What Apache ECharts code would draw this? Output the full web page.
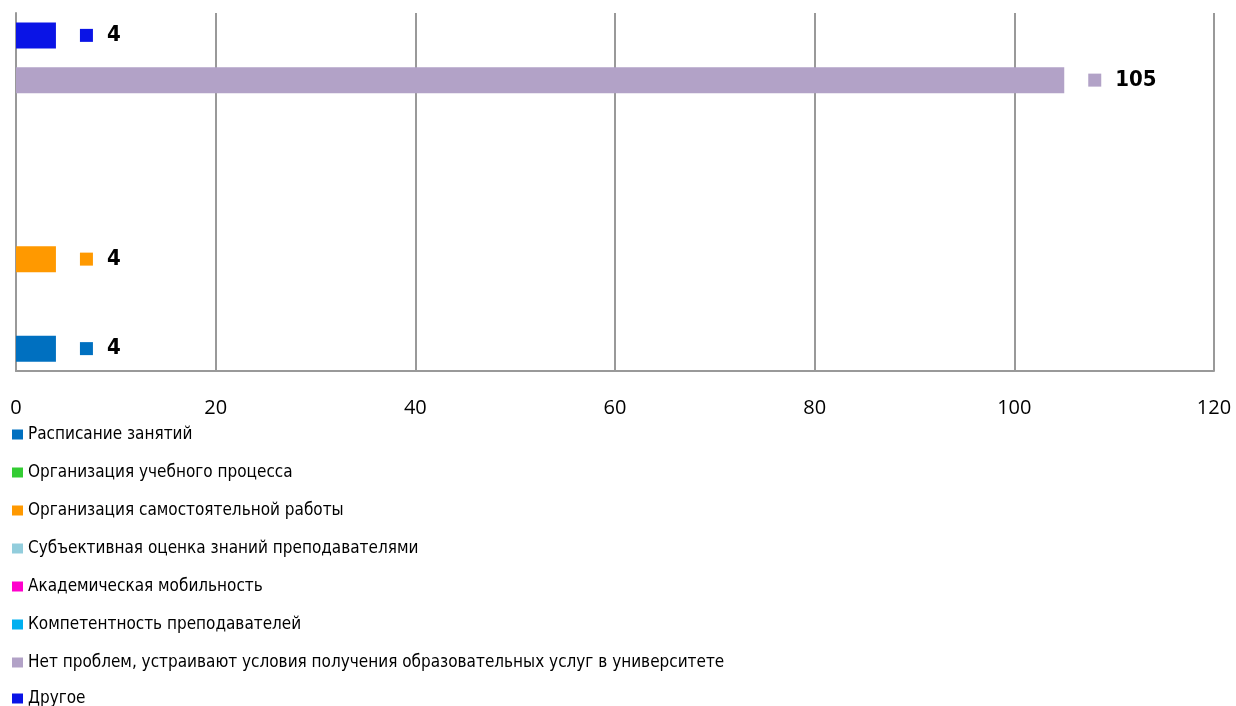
<!DOCTYPE html>
<html>
<head>
<meta charset="utf-8">
<script src="https://cdn.jsdelivr.net/npm/echarts@6/dist/echarts.min.js"></script>
<style>
  html, body { margin: 0; padding: 0; background: #fff; }
  #chart { width: 1236px; height: 706px; }
</style>
</head>
<body>
<div id="chart"></div>
<script>
// categories, bottom to top
const categories = [
    'Расписание занятий',
    'Организация учебного процесса',
    'Организация самостоятельной работы',
    'Субъективная оценка знаний преподавателями',
    'Академическая мобильность',
    'Компетентность преподавателей',
    'Нет проблем, устраивают условия получения образовательных услуг в университете',
    'Другое'
];
// one value per category (null = no bar)
const values = [4, null, 4, null, null, null, 105, 4];
const colors = ['#0070c0', '#33cc33', '#ff9900', '#92cddc', '#ff00cc', '#00b0f0', '#b2a2c7', '#0a14e6'];
const xTicks = [0, 20, 40, 60, 80, 100, 120];

const chart = echarts.init(document.getElementById('chart'));

const series = categories.map((name, i) => ({
    name: name,
    type: 'bar',
    stack: 'all',
    barWidth: 26,
    itemStyle: { color: colors[i] },
    data: categories.map((c, j) => (j === i ? values[i] : null)),
    label: {
        show: true,
        position: 'right',
        distance: 24,
        formatter: p => (p.value == null ? '' : '{box|}{num|' + p.value + '}'),
        rich: {
            box: { width: 13, height: 13, backgroundColor: colors[i] },
            num: {
                fontFamily: '"Liberation Sans Narrow", "DejaVu Sans Condensed", sans-serif',
                fontWeight: 'bold',
                fontSize: 22,
                color: '#000',
                padding: [0, 0, 0, 14]
            }
        }
    }
}));

// the legend runs past the bottom edge, so the last item gets its own legend
const legendBase = {
    orient: 'vertical',
    left: 12,
    padding: 0,
    itemWidth: 11,
    itemHeight: 10,
    itemGap: 21,
    icon: 'rect',
    textStyle: {
        fontFamily: '"Liberation Sans Narrow", "DejaVu Sans Condensed", sans-serif',
        fontSize: 17,
        color: '#000',
        padding: [0, 0, 0, 0]
    }
};

chart.setOption({
    animation: false,
    grid: {
        left: 16,
        right: 22,
        top: 13,
        bottom: 335
    },
    legend: [
        Object.assign({}, legendBase, { top: 426, data: categories.slice(0, 7) }),
        Object.assign({}, legendBase, { top: 690, data: categories.slice(7) })
    ],
    xAxis: {
        type: 'value',
        min: xTicks[0],
        max: xTicks[xTicks.length - 1],
        interval: 20,
        axisLine: { show: true, lineStyle: { color: '#999', width: 2 } },
        axisTick: { show: false },
        splitLine: { lineStyle: { color: '#999', width: 2 } },
        axisLabel: {
            fontFamily: '"Open Sans", sans-serif',
            fontSize: 20,
            color: '#000',
            margin: 27
        }
    },
    yAxis: {
        type: 'category',
        data: categories,
        axisLine: { show: true, lineStyle: { color: '#999', width: 2 } },
        axisTick: { show: false },
        axisLabel: { show: false }
    },
    series: series
});
</script>
</body>
</html>
